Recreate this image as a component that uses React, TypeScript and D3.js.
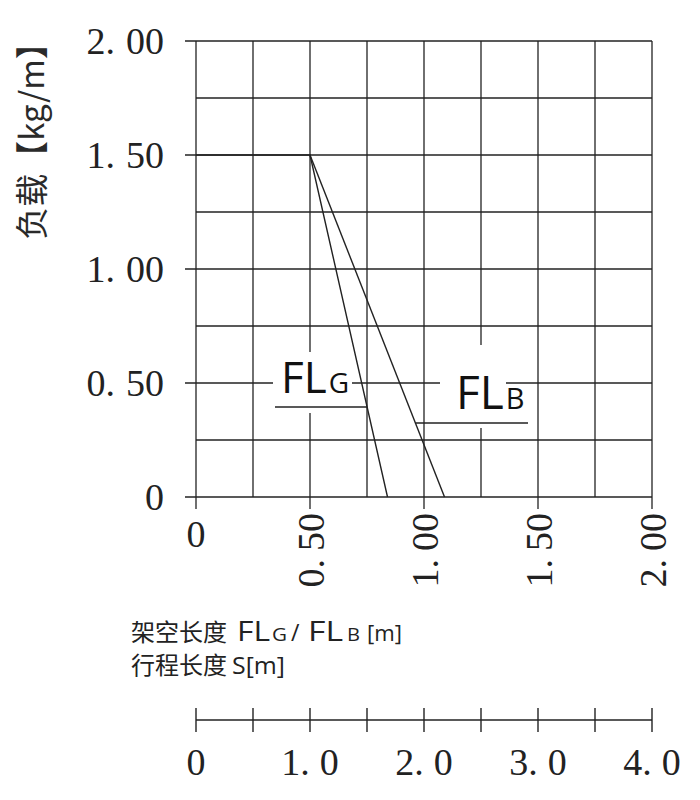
import React from "react";
import * as d3 from "d3";

// ---- data ----
const yTickValues = [0, 0.5, 1.0, 1.5, 2.0];
const yTickLabels = ["0", "0.50", "1.00", "1.50", "2.00"];
const xTickValues = [0, 0.5, 1.0, 1.5, 2.0];
const xTickLabels = ["0", "0.50", "1.00", "1.50", "2.00"];
const gridStep = [0, 0.25, 0.5, 0.75, 1.0, 1.25, 1.5, 1.75, 2.0];
const strokeTicks = [0, 0.5, 1.0, 1.5, 2.0, 2.5, 3.0, 3.5, 4.0];
const strokeLabelValues = [0, 1, 2, 3, 4];
const strokeLabels = ["0", "1.0", "2.0", "3.0", "4.0"];
const flG: [number, number][] = [[0, 1.5], [0.5, 1.5], [0.84, 0]];
const flB: [number, number][] = [[0.5, 1.5], [1.09, 0]];

const INK = "#222";
const SERIF = "'Liberation Serif', 'DejaVu Serif', serif";
const SANS = "'Open Sans', 'Noto Sans', sans-serif";
const CJK = "'Noto Sans CJK SC', sans-serif";

function numLabel(s: string, gap = 11) {
  const i = s.indexOf(".");
  if (i < 0) return <>{s}</>;
  return (
    <>
      {s.slice(0, i + 1)}
      <tspan dx={gap}>{s.slice(i + 1)}</tspan>
    </>
  );
}

export default function App() {
  const x = d3.scaleLinear().domain([0, 2]).range([196, 652]);
  const y = d3.scaleLinear().domain([0, 2]).range([497, 41]);
  const s = d3.scaleLinear().domain([0, 4]).range([196, 652]);
  const line = d3
    .line<[number, number]>()
    .x((d) => x(d[0]))
    .y((d) => y(d[1]));

  const isMajor = (v: number) => Math.abs(v * 2 - Math.round(v * 2)) < 1e-9;
  // x position on a sloped segment for a given pixel y
  const onLine = (end: number, py: number) =>
    x(0.5 + (end - 0.5) * ((1.5 - y.invert(py)) / 1.5));

  return (
    <svg
      width={700}
      height={800}
      style={{ position: "absolute", left: 0, top: 0, background: "#fff" }}
    >
      {/* grid */}
      <g stroke={INK} strokeWidth={1.3} fill="none">
        {gridStep.map((v) => (
          <line
            key={"v" + v}
            x1={x(v)}
            x2={x(v)}
            y1={y(2)}
            y2={isMajor(v) ? y(0) + 12 : y(0)}
          />
        ))}
        {gridStep.map((v) => (
          <line
            key={"h" + v}
            y1={y(v)}
            y2={y(v)}
            x1={isMajor(v) ? x(0) - 11 : x(0)}
            x2={x(2)}
          />
        ))}
      </g>

      {/* label backgrounds */}
      <rect x={273} y={352} width={79} height={61} fill="#fff" />
      <rect x={440} y={345} width={66} height={83} fill="#fff" />

      {/* data lines */}
      <path d={line(flG) || ""} stroke={INK} strokeWidth={1.4} fill="none" />
      <path d={line(flB) || ""} stroke={INK} strokeWidth={1.4} fill="none" />

      {/* leader lines */}
      <line x1={275} x2={onLine(flG[2][0], 407)} y1={407} y2={407} stroke={INK} strokeWidth={1.3} />
      <line x1={onLine(flB[1][0], 423)} x2={528} y1={423} y2={423} stroke={INK} strokeWidth={1.3} />

      {/* FL labels */}
      <text x={281} y={393} fill="#111" fontFamily={SANS} fontSize={44}>
        FL<tspan fontSize={28} dx={2}>G</tspan>
      </text>
      <text x={456} y={409} fill="#111" fontFamily={SANS} fontSize={46}>
        FL<tspan fontSize={29} dx={2}>B</tspan>
      </text>

      {/* y tick labels */}
      {yTickValues.map((v, i) => (
        <text
          key={"yl" + v}
          x={164}
          y={y(v)}
          dy="0.35em"
          textAnchor="end"
          fontFamily={SERIF}
          fontSize={38}
          fill="#222"
        >
          {numLabel(yTickLabels[i])}
        </text>
      ))}

      {/* x tick labels */}
      {xTickValues.map((v, i) =>
        v === 0 ? (
          <text
            key={"xl" + v}
            x={x(v)}
            y={547}
            textAnchor="middle"
            fontFamily={SERIF}
            fontSize={38}
            fill="#222"
          >
            {xTickLabels[i]}
          </text>
        ) : (
          <text
            key={"xl" + v}
            transform={`translate(${x(v) + 1},513) rotate(-90)`}
            textAnchor="end"
            dominantBaseline="central"
            fontFamily={SERIF}
            fontSize={38}
            fill="#222"
          >
            {numLabel(xTickLabels[i], 8)}
          </text>
        )
      )}

      {/* y axis title */}
      <text
        transform="translate(30,133) rotate(-90)"
        textAnchor="middle"
        dominantBaseline="central"
        fontFamily={CJK}
        fontSize={33}
        fontWeight={400}
        fill="#2a2a2a"
      >
        负载【kg/m】
      </text>

      {/* bottom caption */}
      <g fill="#222">
        <text x={131} y={641} fontFamily={CJK} fontSize={24}>架空长度</text>
        <text x={237} y={641} fontFamily={SANS} fontSize={27} textLength={33} lengthAdjust="spacingAndGlyphs">FL</text>
        <text x={272} y={641} fontFamily={SANS} fontSize={18} textLength={15} lengthAdjust="spacingAndGlyphs">G</text>
        <text x={291} y={641} fontFamily={SANS} fontSize={23}>/</text>
        <text x={308} y={641} fontFamily={SANS} fontSize={27} textLength={35} lengthAdjust="spacingAndGlyphs">FL</text>
        <text x={347} y={641} fontFamily={SANS} fontSize={18} textLength={13} lengthAdjust="spacingAndGlyphs">B</text>
        <text x={367} y={641} fontFamily={SANS} fontSize={22} textLength={35} lengthAdjust="spacingAndGlyphs">[m]</text>
        <text x={131} y={674} fontFamily={CJK} fontSize={24}>行程长度</text>
        <text x={232} y={674} fontFamily={SANS} fontSize={23} textLength={53} lengthAdjust="spacingAndGlyphs">S[m]</text>
      </g>

      {/* stroke scale */}
      <g stroke={INK} strokeWidth={1.4}>
        <line x1={s(0)} x2={s(4)} y1={720} y2={720} />
        {strokeTicks.map((v) => (
          <line key={"st" + v} x1={s(v)} x2={s(v)} y1={708} y2={732} />
        ))}
      </g>
      {strokeLabelValues.map((v, i) => (
        <text
          key={"sl" + v}
          x={s(v)}
          y={775}
          textAnchor="middle"
          fontFamily={SERIF}
          fontSize={38}
          fill="#222"
        >
          {numLabel(strokeLabels[i], 10)}
        </text>
      ))}
    </svg>
  );
}
